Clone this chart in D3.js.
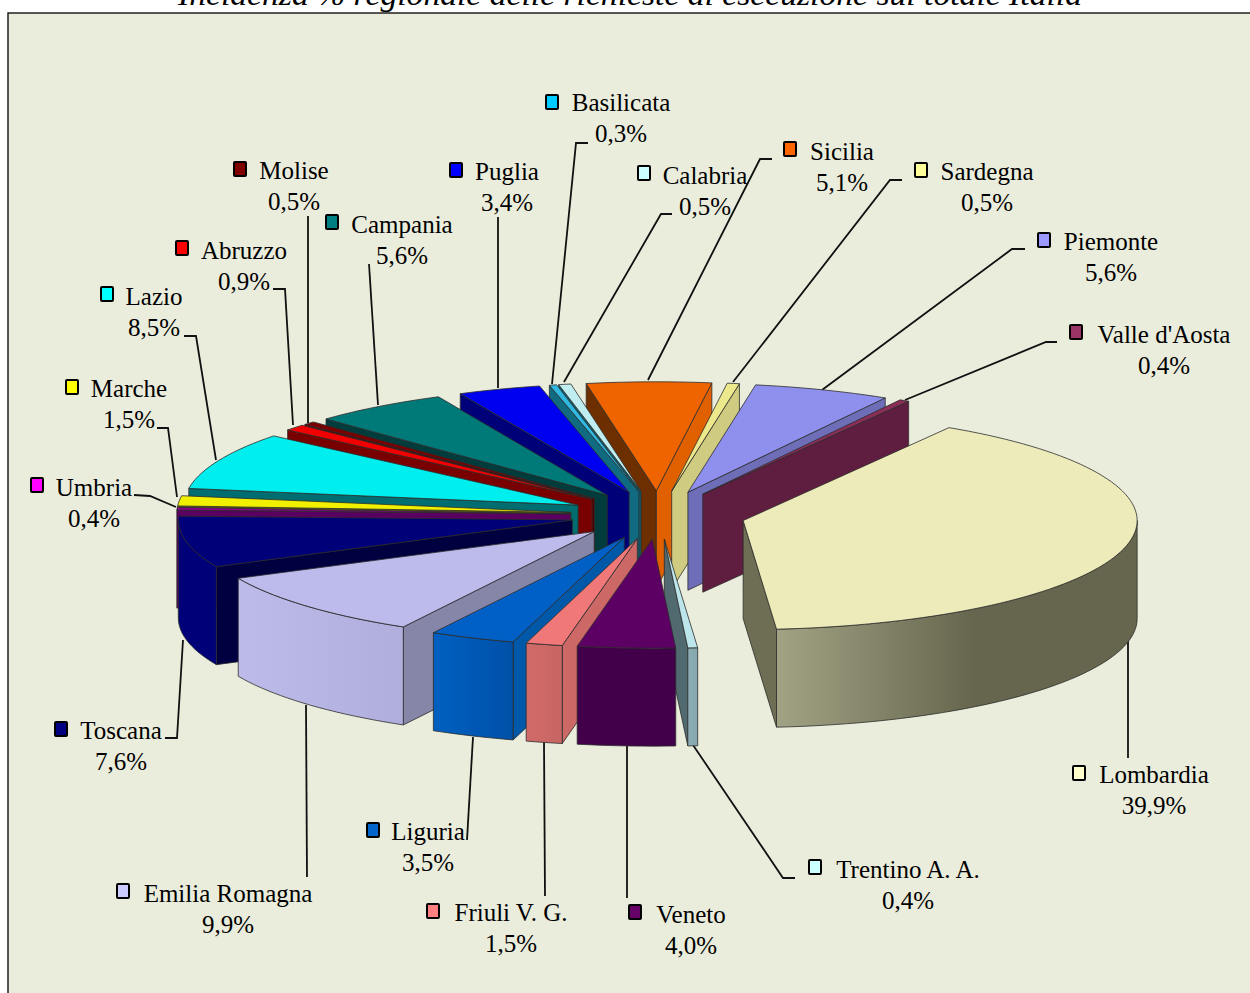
<!DOCTYPE html>
<html><head><meta charset="utf-8">
<script src="https://cdn.jsdelivr.net/npm/d3@7"></script>
<style>html,body{margin:0;background:#fff}svg{display:block}text{font-family:"Liberation Serif",serif;fill:#000}</style>
</head><body><div id="c"></div>
<script>
const regions=["Lombardia","Trentino A. A.","Veneto","Friuli V. G.","Liguria","Emilia Romagna","Toscana","Umbria","Marche","Lazio","Abruzzo","Molise","Campania","Puglia","Basilicata","Calabria","Sicilia","Sardegna","Piemonte","Valle d'Aosta"];
const shares=[39.9,0.4,4.0,1.5,3.5,9.9,7.6,0.4,1.5,8.5,0.9,0.5,5.6,3.4,0.3,0.5,5.1,0.5,5.6,0.4];
const title="Incidenza % regionale delle richieste di esecuzione sul totale Italia";
const swatchColors=["#ffffcc","#ccffff","#660066","#ff8080","#0066cc","#ccccff","#000080","#ff00ff","#ffff00","#00ffff","#ff0000","#800000","#008080","#0000ff","#00ccff","#ccffff","#ff6600","#ffff99","#9999ff","#993366"];
const topColors=["#ecebb9","#bce6ec","#5c0064","#f07878","#0060c6","#bcbbeb","#000078","#8a0090","#f0f000","#00eeee","#f00000","#7a0000","#007a78","#0000f0","#30b8e0","#c0eef0","#f06400","#ece98d","#8f8fee","#8a2e58"];
const outerFrom=["#a2a284","#8cafb6","#42004a","#d06a68","#0060c0","#bcbbe9","#000078","#5a0060","#a0a000","#007070","#780000","#500000","#003c3c","#000078","#106a80","#0e6070","#b04800","#c9c67c","#6d6db8","#5f1d3f"];
const outerTo=["#66664e","#84a6ac","#42004a","#c86664","#0050a8","#b0aedd","#000078","#5a0060","#a0a000","#007070","#780000","#500000","#003c3c","#000078","#106a80","#0e6070","#b04800","#c9c67c","#6d6db8","#5f1d3f"];
const startWall=["#6e6e54","#506a70","#42004a","#cc6866","#0058a8","#8686a8","#000040","#5a0060","#6a6a00","#006e70","#780000","#500000","#003c3c","#000078","#106a80","#0e6070","#6e2f00","#c9c67c","#6d6db8","#5f1d3f"];
const endWall=["#6e6e54","#506a70","#42004a","#cc6866","#0058a8","#8686a8","#000040","#5a0060","#6a6a00","#006e70","#780000","#500000","#003c3c","#000078","#106a80","#0e6070","#e06000","#cfcb80","#6d6db8","#5f1d3f"];
// label layout: swatch centre x,y ; text centre x ; name baseline y
const labelLayout=[[1079,773,1154,783],[815,867,908,878],[635,912,691,923],[433,911,511,921],[373,830,428,840],[123,891,228,902],[61,729,121,739],[37,485,94,496],[72,387,129,397],[107,294,154,305],[182,248,244,259],[240,169,294,179],[332,222,402,233],[456,170,507,180],[552,102,621,111],[644,173,705,184],[790,149,842,160],[921,170,987,180],[1044,240,1111,250],[1076,332,1164,343]];
const leaders=[
[[1128,640],[1128,758]],
[[693,745],[783,878],[795,878]],
[[627,745],[627,898]],
[[544,742],[545,896]],
[[473,737],[467,840]],
[[306,705],[307,877]],
[[183,640],[177,738],[165,738]],
[[134,495],[150,496],[176,507]],
[[157,428],[168,428],[177,497]],
[[184,336],[196,336],[216,460]],
[[273,289],[285,289],[293,425]],
[[308,216],[308,423]],
[[369,264],[378,405]],
[[498,217],[498,388]],
[[588,143],[576,143],[552,384]],
[[672,214],[661,214],[564,382]],
[[772,159],[760,159],[648,380]],
[[902,180],[890,180],[733,382]],
[[1025,249],[1012,249],[822,390]],
[[1057,342],[1046,342],[905,400]]];

const W=1250,H=993,cx=658,cy=515,rx=394,ry=109,depth=98,explode=87.5/394,startDeg=31.5;
const svg=d3.select("#c").append("svg").attr("width",W).attr("height",H);
svg.append("rect").attr("x",8).attr("y",13).attr("width",W).attr("height",H).attr("fill","#eaeddc").attr("stroke","#111").attr("stroke-width",1.4);
svg.append("text").attr("x",630).attr("y",4.5).attr("text-anchor","middle").attr("font-size",31).attr("font-style","italic").attr("textLength",904).attr("lengthAdjust","spacingAndGlyphs").text(title);

const px=d3.scaleLinear().domain([-1,1]).range([cx-rx,cx+rx]);
const py=d3.scaleLinear().domain([-1,1]).range([cy-ry,cy+ry]);
const pie=d3.pie().sort(null).startAngle(startDeg*Math.PI/180).endAngle(startDeg*Math.PI/180+2*Math.PI);
const arcs=pie(shares).map((d,i)=>{const t0=d.startAngle-Math.PI/2,t1=d.endAngle-Math.PI/2,m=(t0+t1)/2;
  return {i,t0,t1,m,ox:explode*Math.cos(m),oy:explode*Math.sin(m)};});
const line=d3.line().x(p=>p[0]).y(p=>p[1]);
const pt=(a,t,dz=0)=>[px(a.ox+Math.cos(t)),py(a.oy+Math.sin(t))+dz];
const vtx=(a,dz=0)=>[px(a.ox),py(a.oy)+dz];
const arcPts=(a,t0,t1,dz=0)=>{const n=Math.max(2,Math.ceil((t1-t0)/0.03));return d3.range(n+1).map(k=>pt(a,t0+(t1-t0)*k/n,dz));};

// leader lines
svg.append("g").selectAll("path").data(leaders).join("path").attr("d",d=>line(d)).attr("fill","none").attr("stroke","#111").attr("stroke-width",1.8);

// gradients
const defs=svg.append("defs");
regions.forEach((r,i)=>{const g=defs.append("linearGradient").attr("id","w"+i);
  g.append("stop").attr("offset",0).attr("stop-color",outerFrom[i]);
  g.append("stop").attr("offset",i==0?0.55:1).attr("stop-color",outerTo[i]);});

const stroke="#2c2c2c",sw=0.8;
const slices=svg.append("g").selectAll("g").data(arcs.slice().sort((a,b)=>Math.sin(a.m)-Math.sin(b.m))).join("g");
slices.each(function(a){
  const g=d3.select(this);
  const wall=(t,col)=>{const P=pt(a,t),Q=vtx(a);
    g.append("path").attr("d",line([Q,P,pt(a,t,depth),vtx(a,depth)])+"Z").attr("fill",col).attr("stroke",stroke).attr("stroke-width",sw).attr("stroke-linejoin","round");};
  if(Math.cos(a.t0)<0) wall(a.t0,startWall[a.i]);
  if(Math.cos(a.t1)>0) wall(a.t1,endWall[a.i]);
  const lo=Math.max(a.t0,0),hi=Math.min(a.t1,Math.PI);
  if(hi>lo){
    const up=arcPts(a,lo,hi),dn=arcPts(a,lo,hi,depth).reverse();
    g.append("path").attr("d",line(up.concat(dn))+"Z").attr("fill",`url(#w${a.i})`).attr("stroke",stroke).attr("stroke-width",sw).attr("stroke-linejoin","round");
  }
  g.append("path").attr("d",line([vtx(a)].concat(arcPts(a,a.t0,a.t1)))+"Z").attr("fill",topColors[a.i]).attr("stroke",stroke).attr("stroke-width",sw).attr("stroke-linejoin","round");
});

// labels
const lab=svg.append("g").selectAll("g").data(regions).join("g");
lab.append("rect").attr("x",(d,i)=>labelLayout[i][0]-6).attr("y",(d,i)=>labelLayout[i][1]-7).attr("width",12).attr("height",14).attr("rx",1).attr("fill",(d,i)=>swatchColors[i]).attr("stroke","#000").attr("stroke-width",2);
lab.append("text").attr("x",(d,i)=>labelLayout[i][2]).attr("y",(d,i)=>labelLayout[i][3]).attr("text-anchor","middle").attr("font-size",25).text(d=>d);
lab.append("text").attr("x",(d,i)=>labelLayout[i][2]).attr("y",(d,i)=>labelLayout[i][3]+31).attr("text-anchor","middle").attr("font-size",25).text((d,i)=>shares[i].toFixed(1).replace(".",",")+"%");
</script></body></html>
